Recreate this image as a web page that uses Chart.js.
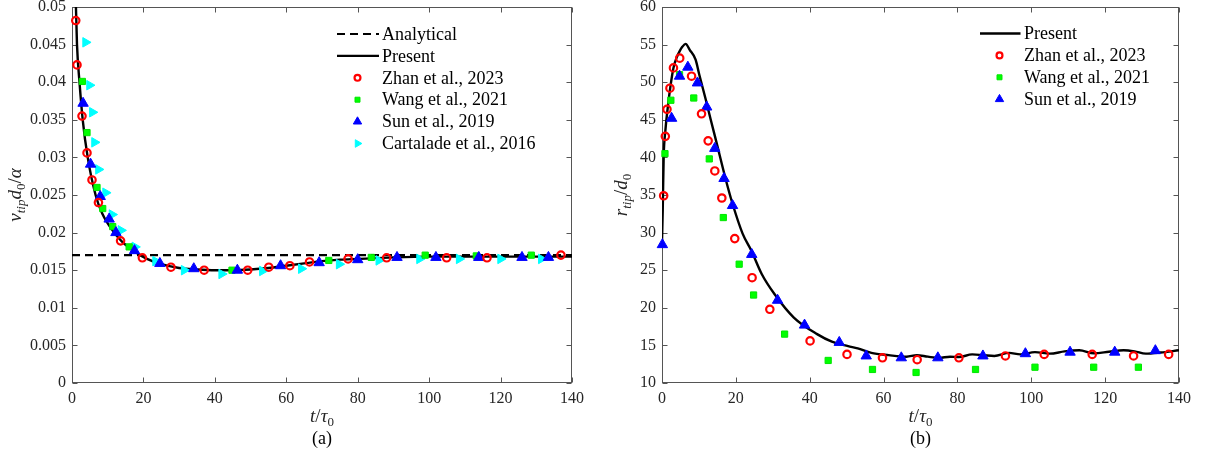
<!DOCTYPE html>
<html>
<head>
<meta charset="utf-8">
<script src="https://cdn.jsdelivr.net/npm/chart.js@4.4.1/dist/chart.umd.min.js"></script>
<style>
  html, body { margin: 0; padding: 0; background: #fff; }
  #wrap { position: relative; width: 1207px; height: 459px; }
  canvas { position: absolute; top: 0; }
</style>
</head>
<body>
<div id="wrap">
  <canvas id="chartA" width="600" height="459" style="left:0"></canvas>
  <canvas id="chartB" width="607" height="459" style="left:600px"></canvas>
</div>
<script>
// ---- ticks ----
const xTicks = [0, 20, 40, 60, 80, 100, 120, 140];
const yTicksA = [0, 0.005, 0.01, 0.015, 0.02, 0.025, 0.03, 0.035, 0.04, 0.045, 0.05];
const yTicksB = [10, 15, 20, 25, 30, 35, 40, 45, 50, 55, 60];

// ---- (a) tip velocity, [t/tau0, v_tip d0/alpha] ----
const analyticalA = [[0, 0.017], [140, 0.017]];
const presentA = [[0.8, 0.058], [1.1, 0.050], [1.4, 0.045], [2.1, 0.040], [3.0, 0.035], [4.4, 0.030],
  [6.6, 0.025], [8.5, 0.0225], [11.5, 0.0202], [14, 0.0188], [17.5, 0.0175], [21, 0.0165],
  [25, 0.0158], [30, 0.0153], [35, 0.0151], [40, 0.0150], [45, 0.0150], [50, 0.0151],
  [55, 0.0153], [60, 0.0156], [65, 0.0159], [70, 0.0162], [75, 0.0164], [80, 0.0165],
  [90, 0.0167], [100, 0.0168], [110, 0.0168], [120, 0.0168], [130, 0.0168], [140, 0.0168]];
const zhanA = [[1.05, 0.0482], [1.4, 0.0423], [2.8, 0.0355], [4.2, 0.0306], [5.6, 0.0270], [7.4, 0.0240],
  [13.6, 0.0189], [19.7, 0.01665], [27.7, 0.0154], [37, 0.0150], [49.2, 0.0150], [55.1, 0.0154],
  [61, 0.0156], [66.5, 0.0161], [77.3, 0.0165], [88.1, 0.01665], [104.9, 0.01665],
  [116.2, 0.01665], [136.9, 0.0170]];
const wangA = [[2.9, 0.0401], [4.2, 0.0333], [7.0, 0.0260], [8.6, 0.0232], [11.4, 0.0208], [16, 0.0181],
  [44.8, 0.0150], [71.9, 0.0163], [83.8, 0.0167], [98.9, 0.0170], [113.2, 0.0169], [128.6, 0.0170]];
const sunA = [[3.1, 0.0372], [5.2, 0.0291], [7.9, 0.0248], [10.4, 0.0218], [12.3, 0.0200], [17.5, 0.0176],
  [24.6, 0.0159], [34.1, 0.0152], [46.3, 0.0150], [58.4, 0.0156], [69.2, 0.0160], [80, 0.0164],
  [91, 0.0167], [101.9, 0.0167], [113.9, 0.0167], [126, 0.0167], [133.4, 0.0167]];
const cartaladeA = [[3.8, 0.0453], [4.9, 0.0396], [5.7, 0.0360], [6.3, 0.0320], [7.4, 0.0284], [9.4, 0.0253],
  [11.2, 0.0224], [13.7, 0.0203], [17.6, 0.0181], [23.4, 0.0162], [31.4, 0.0150], [41.9, 0.0145],
  [53.3, 0.0149], [64.2, 0.0152], [74.8, 0.0158], [85.9, 0.0163], [97.3, 0.0165], [108.4, 0.0165],
  [120, 0.0165], [131.4, 0.0165]];

// ---- (b) tip radius, [t/tau0, r_tip/d0] ----
const presentB = [[0, 28.8], [0.2, 33], [0.45, 40], [0.9, 43.5], [1.6, 46.8], [2.3, 49.5], [3.1, 51.9],
  [4.0, 53.3], [4.75, 54.1], [5.5, 54.7], [6.4, 55.1], [7.5, 54.3], [9.1, 53.0], [10.1, 51.0],
  [11.9, 47.6], [13.2, 45], [14.6, 42.3], [17.3, 37], [19, 34], [21.8, 29.9], [24.2, 27.6],
  [27, 24.5], [30.5, 21.8], [35.7, 18.7], [42, 16.5], [46, 15.5], [50.4, 14.9], [53, 14.6],
  [56.7, 14.0], [61.4, 13.7], [66.2, 13.5], [69, 13.7], [72, 13.5], [75, 13.35], [78, 13.5],
  [80.4, 13.45], [84, 13.8], [87, 13.7], [90, 13.6], [94, 14.0], [97, 13.8], [101, 14.1],
  [105, 13.9], [109, 14.2], [113, 14.35], [117, 13.95], [121, 14.15], [125, 14.35], [128, 14.2],
  [131, 13.9], [135, 14.05], [140, 14.35]];
const zhanB = [[0.45, 34.9], [0.9, 42.8], [1.35, 46.4], [2.15, 49.2], [3.1, 51.9], [4.8, 53.2], [8.0, 50.8],
  [10.7, 45.8], [12.5, 42.2], [14.3, 38.2], [16.2, 34.6], [19.7, 29.2], [24.4, 24.0], [29.2, 19.8],
  [40.1, 15.6], [50.1, 13.8], [59.7, 13.35], [69.1, 13.1], [80.4, 13.35], [93, 13.6],
  [103.5, 13.8], [116.5, 13.8], [127.7, 13.6], [137.2, 13.8]];
const wangB = [[0.8, 40.5], [2.4, 47.6], [4.75, 51.0], [8.6, 47.9], [12.8, 39.8], [16.6, 32.0], [20.9, 25.8],
  [24.8, 21.7], [33.2, 16.5], [45, 13.0], [57, 11.8], [68.8, 11.4], [84.9, 11.8], [101, 12.1],
  [116.9, 12.1], [129, 12.1]];
const sunB = [[0.1, 28.4], [2.6, 45.2], [4.75, 50.8], [7.0, 52.0], [9.6, 49.9], [12.1, 46.7], [14.3, 41.2],
  [16.8, 37.2], [19.1, 33.6], [24.3, 27.1], [31.3, 21.0], [38.6, 17.7], [48, 15.4], [55.3, 13.6],
  [64.8, 13.35], [74.7, 13.35], [86.9, 13.6], [98.4, 13.9], [110.5, 14.1], [122.6, 14.1],
  [133.6, 14.3]];

const pts = arr => arr.map(p => ({ x: p[0], y: p[1] }));
const serif = '"Liberation Serif", "Times New Roman", serif';

const styles = {
  analytical: { type: 'line', borderColor: '#000', borderWidth: 2.2, borderDash: [8, 5] },
  present: { type: 'line', borderColor: '#000', borderWidth: 2.4 },
  zhan: { pointStyle: 'circle', pointRadius: 3.7, borderWidth: 2.2, pointBorderColor: '#ff0000', pointBackgroundColor: 'rgba(0,0,0,0)' },
  wang: { pointStyle: 'rect', pointRadius: 4.4, borderWidth: 1, pointBorderColor: '#00e600', pointBackgroundColor: '#00ff00' },
  sun: { pointStyle: 'triangle', pointRadius: 6, borderWidth: 1, pointBorderColor: '#0000ff', pointBackgroundColor: '#0000ff' },
  cartalade: { pointStyle: 'triangle', pointRotation: 90, pointRadius: 5.5, borderWidth: 1, pointBorderColor: '#00ffff', pointBackgroundColor: '#00ffff' }
};

function lineSet(label, data, st) {
  return {
    label, data: pts(data), showLine: true, pointRadius: 0, order: 10,
    borderColor: st.borderColor, borderWidth: st.borderWidth, borderDash: st.borderDash || [],
    cubicInterpolationMode: 'monotone', fill: false
  };
}
function markSet(label, data, st, order) {
  return {
    label, data: pts(data), showLine: false, order, clip: false,
    pointStyle: st.pointStyle, pointRadius: st.pointRadius, pointRotation: st.pointRotation || 0,
    pointBorderWidth: st.borderWidth, pointBorderColor: st.pointBorderColor,
    pointBackgroundColor: st.pointBackgroundColor
  };
}

// draws "math" text made of italic / upright / subscript parts
function drawMath(ctx, parts, x, y, rotate) {
  const size = 19, sub = 13;
  const font = p => (p.it ? 'italic ' : '') + (p.sub ? sub : size) + 'px ' + serif;
  let w = 0;
  parts.forEach(p => { ctx.font = font(p); w += ctx.measureText(p.t).width; });
  ctx.save();
  ctx.translate(x, y);
  if (rotate) ctx.rotate(-Math.PI / 2);
  ctx.fillStyle = '#262626';
  ctx.textBaseline = 'alphabetic';
  ctx.textAlign = 'left';
  let cx = -w / 2;
  parts.forEach(p => {
    ctx.font = font(p);
    ctx.fillText(p.t, cx, p.sub ? 9 : 5);
    cx += ctx.measureText(p.t).width;
  });
  ctx.restore();
}

function decorPlugin(cfg) {
  return {
    id: 'decor',
    beforeDatasetsDraw(chart) {
      const { ctx, chartArea: a, scales: { x, y } } = chart;
      ctx.save();
      ctx.strokeStyle = '#555';
      ctx.lineWidth = 1;
      const L = Math.round(a.left) + 0.5, R = Math.round(a.right) - 0.5;
      const T = Math.round(a.top) + 0.5, B = Math.round(a.bottom) - 0.5;
      ctx.strokeRect(L, T, R - L, B - T);
      ctx.beginPath();
      x.ticks.forEach(t => {
        const px = Math.round(x.getPixelForValue(t.value)) + 0.5;
        ctx.moveTo(px, B); ctx.lineTo(px, B - 5);
        ctx.moveTo(px, T); ctx.lineTo(px, T + 5);
      });
      y.ticks.forEach(t => {
        const py = Math.round(y.getPixelForValue(t.value)) + 0.5;
        ctx.moveTo(L, py); ctx.lineTo(L + 5, py);
        ctx.moveTo(R, py); ctx.lineTo(R - 5, py);
      });
      ctx.stroke();
      ctx.restore();
    },
    afterDraw(chart) {
      const { ctx, chartArea: a } = chart;
      const cx = (a.left + a.right) / 2, cy = (a.top + a.bottom) / 2;
      drawMath(ctx, cfg.xTitle, cx, a.bottom + 34, false);
      drawMath(ctx, cfg.yTitle, cfg.yTitleX, cy, true);
      ctx.save();
      ctx.fillStyle = '#000';
      ctx.font = '18px ' + serif;
      ctx.textAlign = 'center';
      ctx.textBaseline = 'middle';
      ctx.fillText(cfg.panel, cx, a.bottom + 56);
      // legend
      const lg = cfg.legend;
      cfg.legendItems.forEach((it, i) => {
        const ly = lg.y + i * lg.dy;
        const st = styles[it.key];
        if (st.type === 'line') {
          ctx.strokeStyle = st.borderColor;
          ctx.lineWidth = st.borderWidth;
          ctx.setLineDash(st.borderDash || []);
          ctx.beginPath();
          ctx.moveTo(lg.x0, ly); ctx.lineTo(lg.x1, ly);
          ctx.stroke();
          ctx.setLineDash([]);
        } else {
          ctx.fillStyle = st.pointBackgroundColor;
          ctx.strokeStyle = st.pointBorderColor;
          ctx.lineWidth = st.borderWidth;
          Chart.helpers.drawPoint(ctx, {
            pointStyle: st.pointStyle, radius: st.pointRadius * 0.8,
            rotation: st.pointRotation || 0, borderWidth: st.borderWidth
          }, lg.xm, ly);
        }
        ctx.fillStyle = '#000';
        ctx.font = '18px ' + serif;
        ctx.textAlign = 'left';
        ctx.textBaseline = 'middle';
        ctx.fillText(it.label, lg.xt, ly + 1);
      });
      ctx.restore();
    }
  };
}

function makeChart(id, cfg) {
  return new Chart(document.getElementById(id), {
    type: 'scatter',
    data: { datasets: cfg.datasets },
    options: {
      responsive: false,
      animation: false,
      devicePixelRatio: 1,
      layout: { padding: { top: 7, right: 28, bottom: 0, left: 0 } },
      plugins: { legend: { display: false }, tooltip: { enabled: false } },
      scales: {
        x: {
          type: 'linear', min: 0, max: 140,
          grid: { display: false, drawTicks: false, tickLength: 0 }, border: { display: false },
          afterBuildTicks: s => { s.ticks = xTicks.map(v => ({ value: v })); },
          afterFit: s => { s.height = 76; s.paddingLeft = 0; s.paddingRight = 0; },
          ticks: { color: '#262626', font: { family: serif, size: 16 }, padding: 6, maxRotation: 0, autoSkip: false }
        },
        y: {
          type: 'linear', min: cfg.yTicks[0], max: cfg.yTicks[cfg.yTicks.length - 1],
          grid: { display: false, drawTicks: false, tickLength: 0 }, border: { display: false },
          afterBuildTicks: s => { s.ticks = cfg.yTicks.map(v => ({ value: v })); },
          afterFit: s => { s.width = cfg.yWidth; s.paddingTop = 0; s.paddingBottom = 0; },
          ticks: { color: '#262626', font: { family: serif, size: 16 }, padding: 6, autoSkip: false, callback: v => String(v) }
        }
      }
    },
    plugins: [decorPlugin(cfg)]
  });
}

makeChart('chartA', {
  yTicks: yTicksA, yWidth: 72, yTitleX: 16, panel: '(a)',
  datasets: [
    markSet('Zhan et al., 2023', zhanA, styles.zhan, 1),
    markSet('Wang et al., 2021', wangA, styles.wang, 3),
    markSet('Sun et al., 2019', sunA, styles.sun, 2),
    markSet('Cartalade et al., 2016', cartaladeA, styles.cartalade, 4),
    lineSet('Analytical', analyticalA, styles.analytical),
    lineSet('Present', presentA, styles.present)
  ],
  xTitle: [{ t: 't', it: true }, { t: '/' }, { t: 'τ', it: true }, { t: '0', sub: true }],
  yTitle: [{ t: 'v', it: true }, { t: 'tip', it: true, sub: true }, { t: 'd', it: true }, { t: '0', sub: true }, { t: '/' }, { t: 'α', it: true }],
  legend: { x0: 337, x1: 379, xm: 357.5, xt: 382, y: 34, dy: 21.9 },
  legendItems: [
    { key: 'analytical', label: 'Analytical' },
    { key: 'present', label: 'Present' },
    { key: 'zhan', label: 'Zhan et al., 2023' },
    { key: 'wang', label: 'Wang et al., 2021' },
    { key: 'sun', label: 'Sun et al., 2019' },
    { key: 'cartalade', label: 'Cartalade et al., 2016' }
  ]
});

makeChart('chartB', {
  yTicks: yTicksB, yWidth: 62, yTitleX: 22, panel: '(b)',
  datasets: [
    markSet('Zhan et al., 2023', zhanB, styles.zhan, 1),
    markSet('Wang et al., 2021', wangB, styles.wang, 3),
    markSet('Sun et al., 2019', sunB, styles.sun, 2),
    lineSet('Present', presentB, styles.present)
  ],
  xTitle: [{ t: 't', it: true }, { t: '/' }, { t: 'τ', it: true }, { t: '0', sub: true }],
  yTitle: [{ t: 'r', it: true }, { t: 'tip', it: true, sub: true }, { t: '/' }, { t: 'd', it: true }, { t: '0', sub: true }],
  legend: { x0: 380, x1: 420.5, xm: 399.5, xt: 424, y: 33.5, dy: 21.9 },
  legendItems: [
    { key: 'present', label: 'Present' },
    { key: 'zhan', label: 'Zhan et al., 2023' },
    { key: 'wang', label: 'Wang et al., 2021' },
    { key: 'sun', label: 'Sun et al., 2019' }
  ]
});
</script>
</body>
</html>
